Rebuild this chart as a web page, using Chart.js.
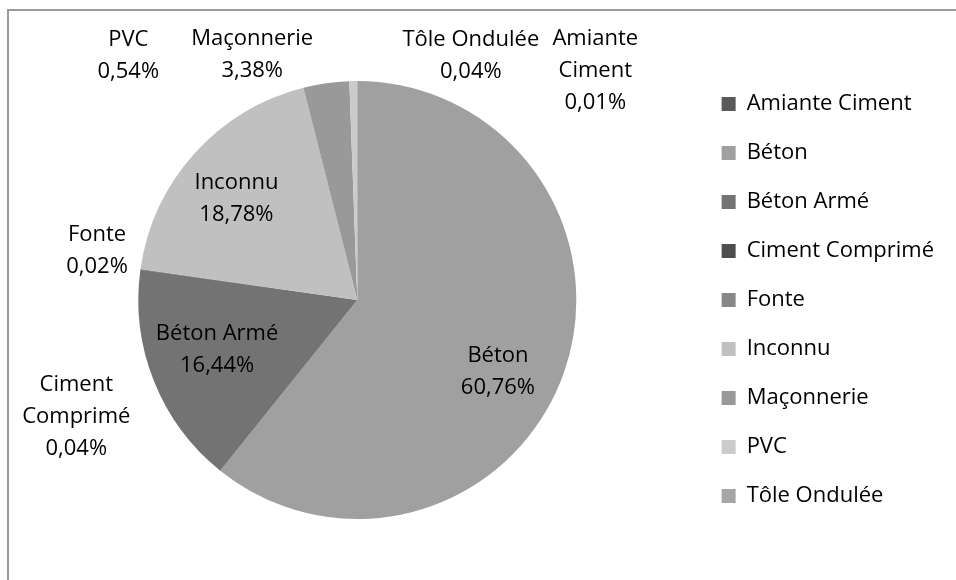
<!DOCTYPE html>
<html>
<head>
<meta charset="utf-8">
<script src="https://cdn.jsdelivr.net/npm/chart.js@4.4.1/dist/chart.umd.min.js"></script>
<style>
  html, body { margin: 0; padding: 0; background: #fff; }
  #cadre {
    position: absolute; left: 7px; top: 9px; right: -10px; bottom: -10px;
    border-top: 2px solid #9a9a9a; border-left: 2px solid #9a9a9a;
  }
  #zone { position: absolute; left: 0; top: 0; width: 956px; height: 580px; }
</style>
</head>
<body>
<div id="cadre"></div>
<div id="zone"><canvas id="camembert"></canvas></div>
<script>
// Matériaux des conduites et leur part (%)
var materiaux = ['Amiante Ciment', 'Béton', 'Béton Armé', 'Ciment Comprimé', 'Fonte',
                 'Inconnu', 'Maçonnerie', 'PVC', 'Tôle Ondulée'];
var parts = [0.01, 60.76, 16.44, 0.04, 0.02, 18.78, 3.38, 0.54, 0.04];
var couleurs = ['#595959', '#a0a0a0', '#737373', '#4d4d4d', '#878787',
                '#c0c0c0', '#999999', '#cbcbcb', '#a6a6a6'];

// Placement des étiquettes : décalage angulaire (degrés) par rapport au milieu
// de la part, distance en fraction du rayon, coupure du nom sur deux lignes
var placement = [
  { tourne: 46, dist: 1.51, coupe: true },
  { tourne: 7.5, dist: 0.72, coupe: false },
  { tourne: 2, dist: 0.68, coupe: false },
  { tourne: -30.6, dist: 1.39, coupe: true },
  { tourne: 2.7, dist: 1.21, coupe: false },
  { tourne: -2, dist: 0.72, coupe: false },
  { tourne: -15, dist: 1.22, coupe: false },
  { tourne: -42, dist: 1.53, coupe: false },
  { tourne: 25, dist: 1.23, coupe: false }
];

var police = '"Open Sans", "Noto Sans", sans-serif';
var taille = 22;

function enPourcent(v) {
  return v.toFixed(2).replace('.', ',') + '%';
}

var etiquettes = {
  id: 'etiquettes',
  afterDatasetsDraw: function (chart) {
    var ctx = chart.ctx;
    var meta = chart.getDatasetMeta(0);
    ctx.save();
    ctx.font = taille + 'px ' + police;
    ctx.fillStyle = '#000';
    ctx.textAlign = 'center';
    ctx.textBaseline = 'middle';
    meta.data.forEach(function (arc, i) {
      var p = arc.getProps(['x', 'y', 'startAngle', 'endAngle', 'outerRadius'], true);
      var conf = placement[i];
      var a = (p.startAngle + p.endAngle) / 2 + conf.tourne * Math.PI / 180;
      var cx = p.x + Math.cos(a) * conf.dist * p.outerRadius;
      var cy = p.y + Math.sin(a) * conf.dist * p.outerRadius;
      var lignes = conf.coupe ? materiaux[i].split(' ') : [materiaux[i]];
      lignes.push(enPourcent(parts[i]));
      var h = 32;
      var y0 = cy - (lignes.length - 1) * h / 2;
      lignes.forEach(function (t, k) {
        ctx.fillText(t, cx, y0 + k * h);
      });
    });
    ctx.restore();
  }
};

new Chart(document.getElementById('camembert'), {
  type: 'pie',
  data: {
    labels: materiaux,
    datasets: [{
      data: parts,
      backgroundColor: couleurs,
      borderWidth: 0,
      radius: 219
    }]
  },
  options: {
    responsive: true,
    maintainAspectRatio: false,
    animation: false,
    layout: { padding: { left: 20, right: 12, top: 24, bottom: 4 } },
    plugins: {
      tooltip: { enabled: false },
      legend: {
        position: 'right',
        labels: {
          boxWidth: 14,
          boxHeight: 14,
          padding: 27,
          color: '#000',
          font: { family: police, size: taille }
        }
      }
    }
  },
  plugins: [etiquettes]
});
</script>
</body>
</html>
